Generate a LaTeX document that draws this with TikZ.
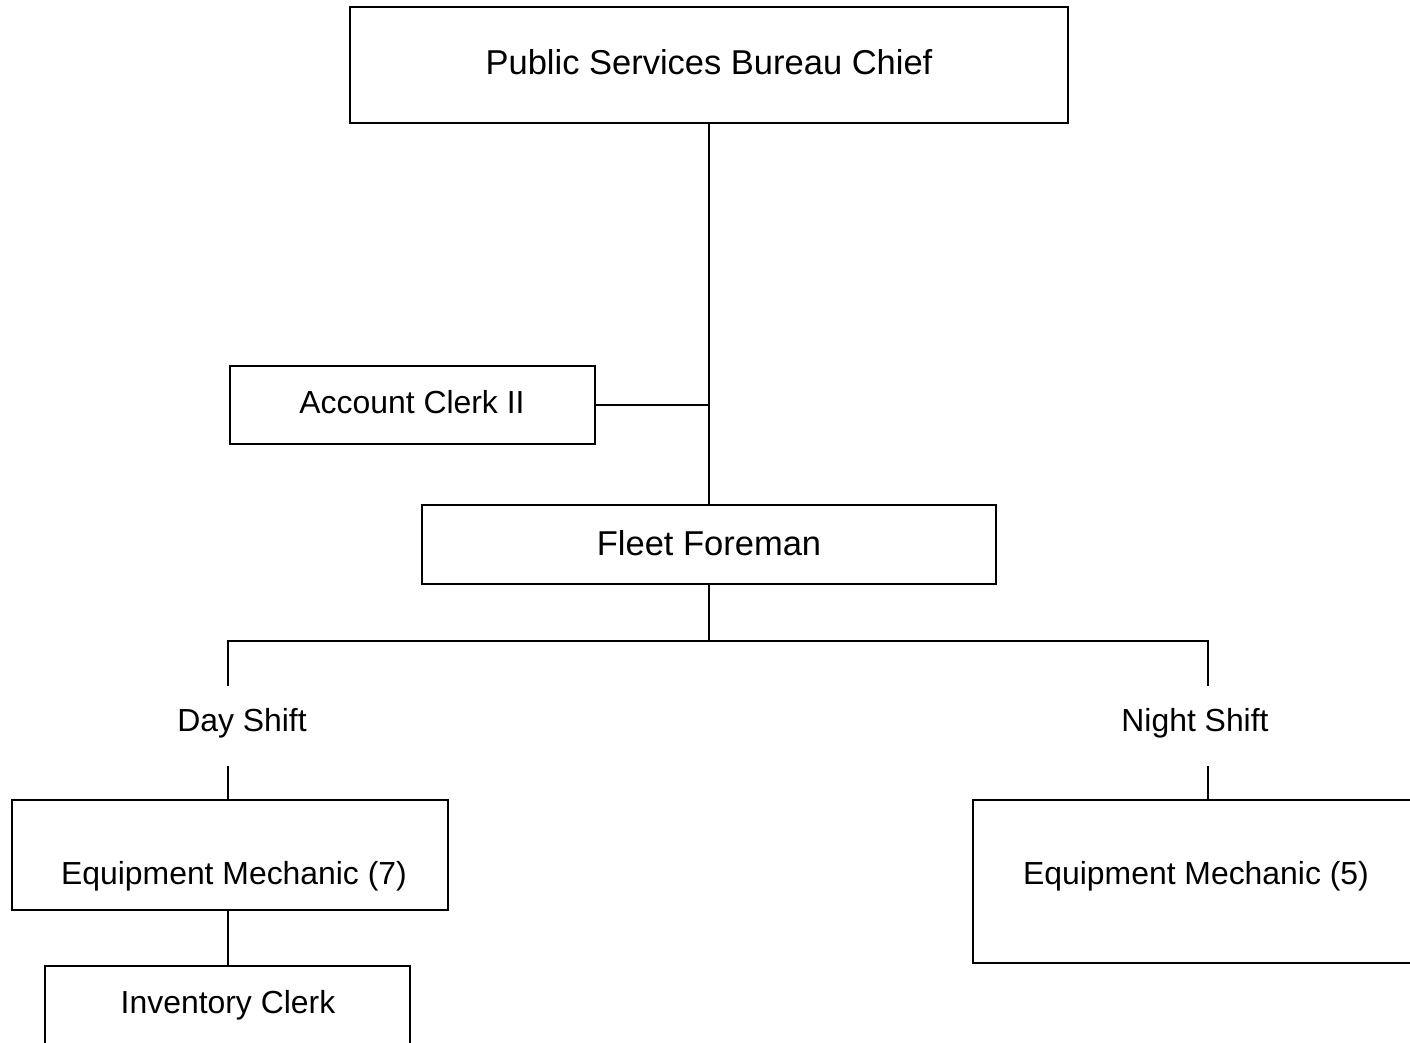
\documentclass[tikz,border=0pt]{standalone}
\usepackage{fontspec}
\setmainfont{Liberation Sans}
\begin{document}
\begin{tikzpicture}[x=1pt,y=-1pt,
  line width=2.5pt,
  box/.style={draw, rectangle, inner sep=0pt, outer sep=0pt, anchor=north west},
  txt/.style={anchor=base, inner sep=0pt, font=\fontsize{31.9}{38}\selectfont},
  bigtxt/.style={anchor=base, inner sep=0pt, font=\fontsize{34.5}{41}\selectfont}]
\useasboundingbox (0,0) rectangle (1410,1042);
\clip (0,0) rectangle (1410,1042);
% boxes
\node[box, minimum width=718pt, minimum height=116pt] (chief) at (350,7) {};
\node[box, minimum width=365pt, minimum height=78pt] (acct) at (230,366) {};
\node[box, minimum width=574pt, minimum height=79pt] (fleet) at (422,505) {};
\node[box, minimum width=436pt, minimum height=110pt] (em7) at (12,800) {};
\node[box, minimum width=365pt, minimum height=120pt] (inv) at (45,966) {};
\node[box, minimum width=447pt, minimum height=163pt] (em5) at (973,800) {};
% texts
\node[bigtxt] (chief-t) at (709,74) {Public Services Bureau Chief};
\node[txt] (acct-t) at (412,413) {Account Clerk II};
\node[bigtxt] (fleet-t) at (709,555) {Fleet Foreman};
\node[txt] (day) at (242,731) {Day Shift};
\node[txt] (night) at (1195,731) {Night Shift};
\node[txt] (em7-t) at (234,884) {Equipment Mechanic (7)};
\node[txt] (inv-t) at (228,1013) {Inventory Clerk};
\node[txt] (em5-t) at (1196,884) {Equipment Mechanic (5)};
% connector points
\coordinate (bus) at (709,641);
\coordinate (dayA) at (228,686);
\coordinate (nightA) at (1208,686);
\coordinate (dayB) at (228,766);
\coordinate (nightB) at (1208,766);
% connectors
\draw (chief.south) -- (fleet.north);
\draw (acct.east) -- (acct.east -| chief.south);
\draw (fleet.south) -- (fleet.south |- bus);
\draw (dayA) |- (bus) -| (nightA);
\draw (dayB) -- (dayB |- em7.north);
\draw (nightB) -- (nightB |- em5.north);
\draw (em7.south -| dayB) -- (inv.north -| dayB);
\end{tikzpicture}
\end{document}
